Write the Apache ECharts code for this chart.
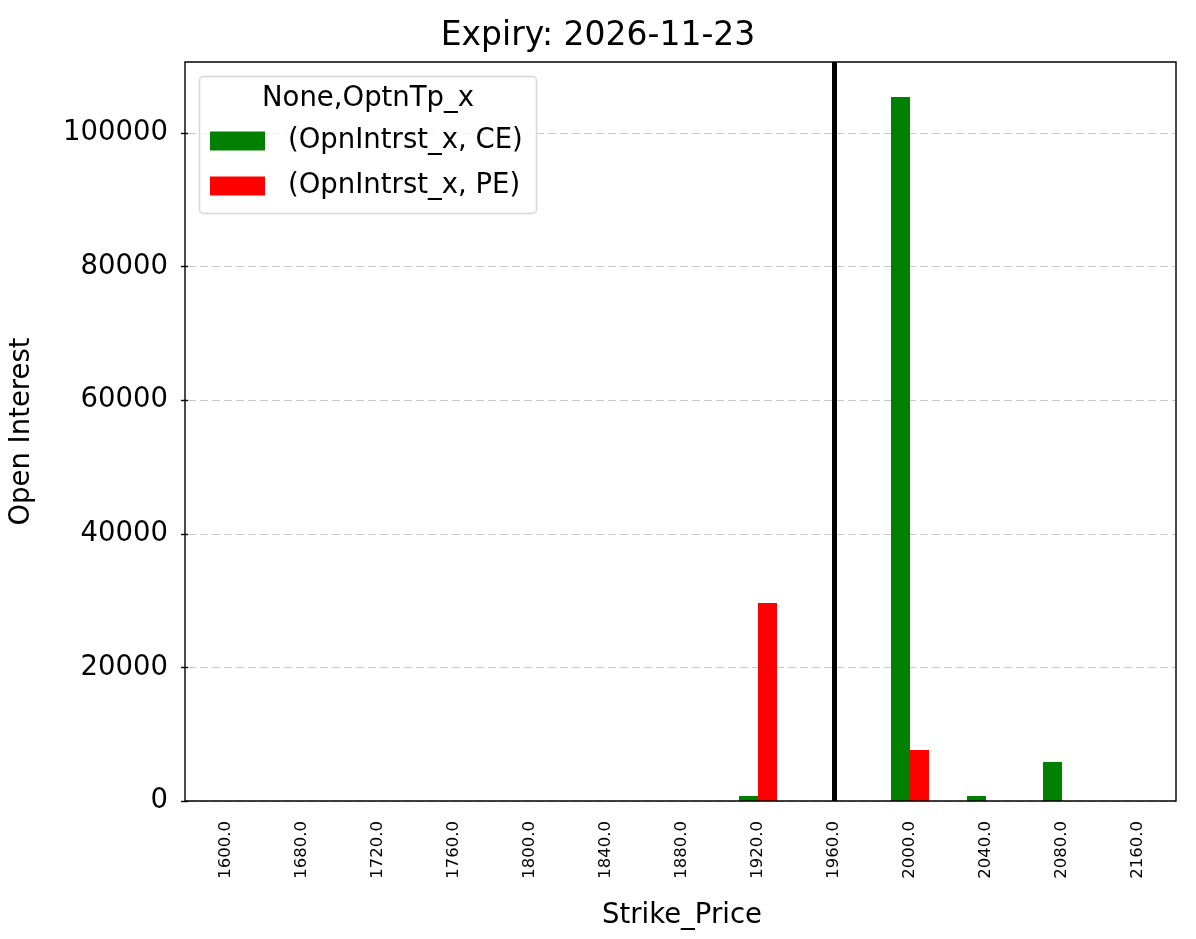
<!DOCTYPE html>
<html>
<head>
<meta charset="utf-8">
<script src="https://cdn.jsdelivr.net/npm/echarts@6/dist/echarts.min.js"></script>
<style>
  html, body { margin: 0; padding: 0; background: #fff; }
  #chart { width: 1196px; height: 939px; }
</style>
</head>
<body>
<div id="chart"></div>
<script>
// strike prices (category axis)
const strikes = ['1600.0', '1680.0', '1720.0', '1760.0', '1800.0', '1840.0', '1880.0',
  '1920.0', '1960.0', '2000.0', '2040.0', '2080.0', '2160.0']
// open interest, calls
const ceValues = [0, 0, 0, 0, 0, 0, 0, 750, 0, 105400, 750, 5850, 0]
// open interest, puts
const peValues = [0, 0, 0, 0, 0, 0, 0, 29650, 0, 7650, 0, 0, 0]
const yTicks = [0, 20000, 40000, 60000, 80000, 100000]
const spotStrike = '1960.0'

const font = 'DejaVu Sans'
const chart = echarts.init(document.getElementById('chart'))

chart.setOption({
  animation: false,
  backgroundColor: '#fff',
  title: {
    text: 'Expiry: 2026-11-23',
    left: 'center',
    top: 15,
    textStyle: { fontFamily: font, fontSize: 33, fontWeight: 'normal', color: '#000' }
  },
  grid: {
    left: 185, right: 20, top: 62, bottom: 138,
    show: false
  },
  legend: {
    orient: 'vertical',
    left: 210,
    top: 127,
    padding: 0,
    itemWidth: 55,
    itemHeight: 19,
    itemGap: 17,
    icon: 'rect',
    z: 10,
    textStyle: { fontFamily: font, fontSize: 27.5, color: '#000', padding: [0, 0, 0, 18] },
    data: ['(OpnIntrst_x, CE)', '(OpnIntrst_x, PE)']
  },
  graphic: [
    {
      type: 'rect',
      shape: { x: 199.5, y: 76.5, width: 337, height: 137, r: 4 },
      style: { fill: 'rgba(255,255,255,0.8)', stroke: '#d6d6d6', lineWidth: 1.5 },
      z: 3
    },
    {
      type: 'text',
      left: 262, top: 85,
      style: { text: 'None,OptnTp_x', fontFamily: font, fontSize: 27.5, fill: '#000' },
      z: 11
    },
    {
      // axes frame
      type: 'rect',
      shape: { x: 185, y: 62, width: 991, height: 739 },
      style: { fill: 'none', stroke: '#000', lineWidth: 1.4 },
      z: 20
    }
  ],
  xAxis: {
    type: 'category',
    data: strikes,
    name: 'Strike_Price',
    nameLocation: 'middle',
    nameGap: 101,
    nameTextStyle: { fontFamily: font, fontSize: 27.5, color: '#000' },
    axisLine: { show: false },
    axisTick: { alignWithLabel: true, length: 8, lineStyle: { color: '#000', width: 1.4 } },
    axisLabel: { rotate: 90, fontFamily: font, fontSize: 16.5, color: '#000', margin: 20, interval: 0 },
    splitLine: { show: false }
  },
  yAxis: {
    type: 'value',
    min: 0,
    max: 110650,
    interval: 20000,
    name: 'Open Interest',
    nameLocation: 'middle',
    nameGap: 152,
    nameTextStyle: { fontFamily: font, fontSize: 27.5, color: '#000' },
    axisLine: { show: false },
    axisTick: { show: true, length: 7, customValues: yTicks, lineStyle: { color: '#000', width: 1.4 } },
    axisLabel: {
      fontFamily: font, fontSize: 27.5, color: '#000', margin: 20,
      customValues: yTicks,
      formatter: v => String(v)
    },
    splitLine: { show: true, lineStyle: { color: '#c8c8c8', type: [8, 4], width: 1.2 } }
  },
  series: [
    {
      name: '(OpnIntrst_x, CE)',
      type: 'bar',
      data: ceValues,
      itemStyle: { color: '#008000' },
      barGap: 0,
      barCategoryGap: '50%'
    },
    {
      name: '(OpnIntrst_x, PE)',
      type: 'bar',
      data: peValues,
      itemStyle: { color: '#ff0000' },
      barGap: 0,
      barCategoryGap: '50%'
    },
    {
      // spot marker at the category centre
      name: 'spot',
      type: 'line',
      data: [],
      markLine: {
        silent: true,
        symbol: 'none',
        label: { show: false },
        lineStyle: { color: '#000', width: 5, type: 'solid' },
        data: [{ xAxis: spotStrike }]
      }
    }
  ]
})
</script>
</body>
</html>
